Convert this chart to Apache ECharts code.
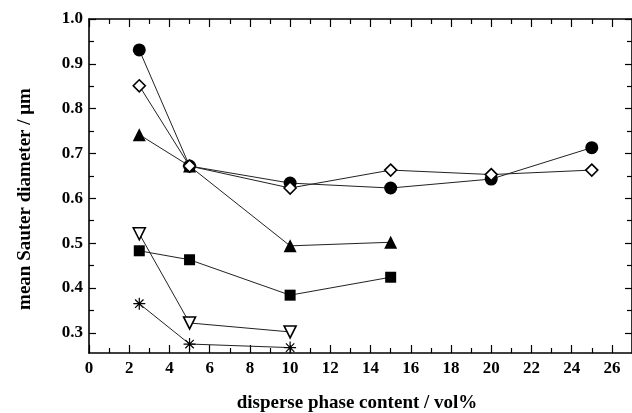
<!DOCTYPE html>
<html>
<head>
<meta charset="utf-8">
<script src="https://cdn.jsdelivr.net/npm/echarts@6/dist/echarts.min.js"></script>
<style>
html,body{margin:0;padding:0;background:#fff;}
#chart{width:632px;height:413px;}
</style>
</head>
<body>
<div id="chart"></div>
<script>
// data
const xCircle = [2.5, 5, 10, 15, 20, 25];
const yCircle = [0.931, 0.672, 0.634, 0.623, 0.643, 0.713];
const xDiamond = [2.5, 5, 10, 15, 20, 25];
const yDiamond = [0.851, 0.672, 0.623, 0.663, 0.653, 0.663];
const xTriangle = [2.5, 5, 10, 15];
const yTriangle = [0.742, 0.672, 0.494, 0.502];
const xSquare = [2.5, 5, 10, 15];
const ySquare = [0.483, 0.463, 0.384, 0.424];
const xDown = [2.5, 5, 10];
const yDown = [0.521, 0.322, 0.302];
const xStar = [2.5, 5, 10];
const yStar = [0.365, 0.275, 0.267];
const xTickLabels = [0,2,4,6,8,10,12,14,16,18,20,22,24,26];
const xMinorTicks = [1,3,5,7,9,11,13,15,17,19,21,23,25];
const yTickLabels = [0.3,0.4,0.5,0.6,0.7,0.8,0.9,1.0];
const yMinorTicks = [0.35,0.45,0.55,0.65,0.75,0.85,0.95];
const xTitle = 'disperse phase content / vol%';
const yTitle = 'mean Sauter diameter / μm';

const pair = (xs, ys) => xs.map((x, i) => [x, ys[i]]);
const FONT = 'Liberation Serif';
const starPath = 'path://M0 9L20 9L20 11L0 11Z M9 0L11 0L11 20L9 20Z M3.7 2.3L17.7 16.3L16.3 17.7L2.3 3.7Z M16.3 2.3L17.7 3.7L3.7 17.7L2.3 16.3Z';

const chart = echarts.init(document.getElementById('chart'), null, {renderer: 'canvas'});
const axisLineStyle = {color: '#000', width: 1.6};
function xAx(pos, ticks, len, showLabel, showLine) {
  return {
    type: 'value', position: pos, min: 0, max: 27, gridIndex: 0,
    axisLine: {show: showLine, onZero: false, lineStyle: axisLineStyle},
    splitLine: {show: false},
    axisTick: {show: true, inside: true, length: len, customValues: ticks, lineStyle: {color: '#000', width: 1.2}},
    axisLabel: {show: showLabel, customValues: ticks, margin: 7, color: '#000', fontFamily: FONT, fontWeight: 'bold', fontSize: 17}
  };
}
function yAx(pos, ticks, len, showLabel, showLine) {
  return {
    type: 'value', position: pos, min: 0.255, max: 1.0, gridIndex: 0,
    axisLine: {show: showLine, onZero: false, lineStyle: axisLineStyle},
    splitLine: {show: false},
    axisTick: {show: true, inside: true, length: len, customValues: ticks, lineStyle: {color: '#000', width: 1.2}},
    axisLabel: {show: showLabel, customValues: ticks, margin: 6, color: '#000', fontFamily: FONT, fontWeight: 'bold', fontSize: 17,
      formatter: v => v.toFixed(1)}
  };
}

function ser(data, symbol, size, filled, extra) {
  return Object.assign({
    type: 'line', data: data, symbol: symbol, symbolSize: size,
    xAxisIndex: 0, yAxisIndex: 0,
    lineStyle: {color: '#222', width: 1},
    itemStyle: {color: filled ? '#000' : '#fff', borderColor: '#000', borderWidth: filled ? 0 : 1.6},
    emphasis: {disabled: true}, animation: false, z: 3
  }, extra || {});
}

chart.setOption({
  backgroundColor: '#fff',
  animation: false,
  grid: {left: 89, top: 19, width: 544, height: 334, containLabel: false},
  xAxis: [
    xAx('bottom', xTickLabels, 8, true, true),
    xAx('bottom', xMinorTicks, 5, false, false),
    xAx('top', xTickLabels, 8, false, true),
    xAx('top', xMinorTicks, 5, false, false)
  ],
  yAxis: [
    yAx('left', yTickLabels, 7, true, true),
    yAx('left', yMinorTicks, 5, false, false),
    yAx('right', yTickLabels, 7, false, true),
    yAx('right', yMinorTicks, 5, false, false)
  ],
  graphic: [
    {type: 'text', x: 357, y: 403, style: {text: xTitle, align: 'center', verticalAlign: 'middle',
      font: 'bold 19px "Liberation Serif"', fill: '#000'}},
    {type: 'text', x: 25, y: 199, rotation: Math.PI / 2, style: {text: yTitle, align: 'center', verticalAlign: 'middle',
      font: 'bold 19px "Liberation Serif"', fill: '#000'}}
  ],
  series: [
    ser(pair(xCircle, yCircle), 'circle', 13, true),
    ser(pair(xDiamond, yDiamond), 'diamond', 12, false, {z: 4}),
    ser(pair(xTriangle, yTriangle), 'triangle', 13, true),
    ser(pair(xSquare, ySquare), 'rect', 11, true),
    ser(pair(xDown, yDown), 'triangle', 12, false, {symbolRotate: 180}),
    ser(pair(xStar, yStar), starPath, 12, true)
  ]
});
</script>
</body>
</html>
